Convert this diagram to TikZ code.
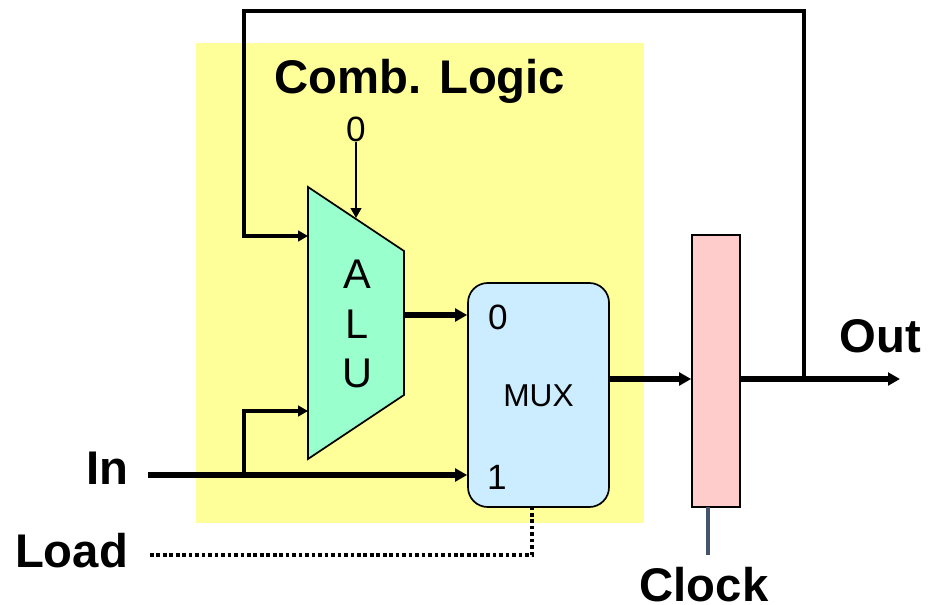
\documentclass[tikz,border=0pt]{standalone}
\usepackage{fontspec}
\setmainfont{Liberation Sans}
\usetikzlibrary{arrows.meta}
\definecolor{combyellow}{HTML}{FFFF99}
\definecolor{alugreen}{HTML}{99FFCC}
\definecolor{muxblue}{HTML}{CCECFF}
\definecolor{regpink}{HTML}{FFCCCC}
\definecolor{clockgray}{HTML}{44546A}
\tikzset{
	bigtext/.style={font=\fontsize{33.6}{38}\selectfont\bfseries, inner sep=0pt},
	porttext/.style={font=\fontsize{25}{30}\selectfont, inner sep=0pt},
	wire/.style={line width=2.6pt, -{Triangle[length=7pt, width=7.5pt]}},
	bus/.style={line width=3.8pt, -{Triangle[length=8.5pt, width=9pt]}},
}

\begin{document}
\begin{tikzpicture}[x=0.025cm, y=-0.025cm]
	\useasboundingbox (0,0) rectangle (928,605);
	\fill[combyellow] (196,43) rectangle (644,523);
	% blocks
	\draw[fill=alugreen, line width=1.2pt, line join=miter] (308,187) -- (404,251) -- (404,395) -- (308,459) -- cycle;
	\node[draw, fill=muxblue, line width=1.2pt, rounded corners=14pt, minimum width=141*0.025cm, minimum height=224*0.025cm, inner sep=0pt] (mux) at (538.5,395) {};
	\node[draw, fill=regpink, line width=1.2pt, minimum width=48*0.025cm, minimum height=272*0.025cm, inner sep=0pt] (reg) at (716,371) {};
	% labels
	\node[bigtext] (comb) at (420,81) {Comb. Logic};
	\node[porttext] (zero) at (356,129) {0};
	\node[align=center, inner sep=0pt, font=\fontsize{29.5}{35.4}\selectfont] (alu) at (357,324) {A\\L\\U};
	\node[inner sep=0pt, font=\fontsize{22.5}{26}\selectfont] (muxname) at (538.5,396) {MUX};
	\node[porttext] (muxa) at (498,317) {0};
	\node[porttext] (muxb) at (497,477) {1};
	\node[bigtext] (in) at (107.5,468) {In};
	\node[bigtext] (load) at (71.5,551) {Load};
	\node[bigtext] (clock) at (704,585) {Clock};
	\node[bigtext] (out) at (880.5,336) {Out};
	% wire ends
	\coordinate (aluctl) at (356,218);
	\coordinate (alua) at (308,236);
	\coordinate (alub) at (308,411);
	\coordinate (aluout) at (404,315);
	\coordinate (muxa0) at (mux.west |- aluout);
	\coordinate (instart) at (148,475);
	\coordinate (muxb0) at (mux.west |- instart);
	\coordinate (muxout) at (mux.east |- 0,379);
	\coordinate (regin) at (reg.west |- muxout);
	\coordinate (regout) at (reg.east |- muxout);
	\coordinate (outend) at (900,379);
	\coordinate (tap) at (804,379);
	\coordinate (intap) at (244,475);
	\coordinate (loadstart) at (150,555);
	\coordinate (loadsel) at (532,507);
	\coordinate (clocktop) at (708,507);
	\coordinate (clockend) at (708,555);
	% connectors
	\draw[line width=1.4pt, -{Triangle[length=7pt, width=7.5pt]}] (zero) -- (aluctl);
	\draw[wire] (tap) -- (804,11) -- (244,11) -- (244,236) -- (alua);
	\draw[wire] (intap) -- (244,411) -- (alub);
	\draw[bus] (aluout) -- (muxa0);
	\draw[bus] (instart) -- (muxb0);
	\draw[bus] (muxout) -- (regin);
	\draw[bus] (regout) -- (outend);
	\draw[line width=2.6pt, dotted, line cap=butt] (loadstart) -- (532,555) -- (loadsel);
	\draw[clockgray, line width=2.6pt] (clocktop) -- (clockend);
\end{tikzpicture}
\end{document}
